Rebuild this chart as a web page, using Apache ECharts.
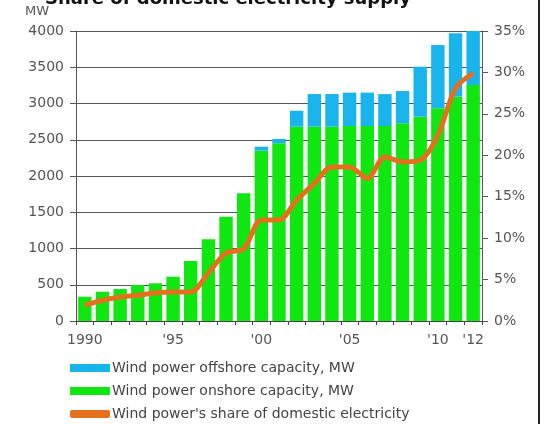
<!DOCTYPE html>
<html>
<head>
<meta charset="utf-8">
<script src="https://cdn.jsdelivr.net/npm/echarts@6/dist/echarts.min.js"></script>
<style>
  html, body { margin: 0; padding: 0; background: #fff; }
  #chart { width: 545px; height: 424px; }
</style>
</head>
<body>
<div id="chart"></div>
<script>
// years 1990 - 2012
var years = ['1990', '1991', '1992', '1993', '1994', '1995', '1996', '1997', '1998', '1999', '2000',
    '2001', '2002', '2003', '2004', '2005', '2006', '2007', '2008', '2009', '2010', '2011', '2012'];
var yearLabels = { '1990': '1990', '1995': '\'95', '2000': '\'00', '2005': '\'05', '2010': '\'10', '2012': '\'12' };

// MW
var onshore = [335, 404, 441, 497, 520, 611, 828, 1127, 1439, 1761, 2349,
    2451, 2680, 2680, 2680, 2690, 2690, 2690, 2727, 2818, 2933, 3094, 3255];
var offshore = [0, 0, 0, 0, 0, 0, 0, 0, 0, 0, 55,
    60, 220, 450, 450, 460, 460, 440, 445, 690, 875, 875, 805];

// % of domestic electricity supply
var share = [1.9, 2.5, 2.9, 3.1, 3.4, 3.5, 3.5, 5.8, 8.2, 8.7, 12.2,
    12.2, 14.6, 16.6, 18.6, 18.6, 17.2, 19.8, 19.2, 19.4, 22.4, 28.1, 29.9];

var names = ['Wind power offshore capacity, MW', 'Wind power onshore capacity, MW',
    'Wind power\'s share of domestic electricity'];

var font = 'DejaVu Sans';
var labelColor = '#555';
var gridColor = '#555';

var chart = echarts.init(document.getElementById('chart'), null, { renderer: 'canvas' });

var option = {
    animation: false,
    textStyle: { fontFamily: font },
    title: {
        text: 'Share of domestic electricity supply',
        left: 40,
        top: -15,
        textStyle: { fontFamily: font, fontSize: 18, fontWeight: 'bold', color: '#111' }
    },
    graphic: [
        { type: 'text', left: 25, top: 5, style: { text: 'MW', font: '13px DejaVu Sans', fill: labelColor } },
        { type: 'line', shape: { x1: 539, y1: 0, x2: 539, y2: 424 }, style: { stroke: '#222', lineWidth: 2 } }
    ],
    legend: {
        orient: 'vertical',
        left: 70,
        top: 361,
        padding: 0,
        itemWidth: 40,
        itemHeight: 8,
        itemGap: 9,
        textStyle: { fontFamily: font, fontSize: 14, color: '#444', padding: [0, 0, 0, -3] },
        data: [
            { name: names[0], icon: 'rect' },
            { name: names[1], icon: 'rect' },
            { name: names[2], icon: 'roundRect', itemStyle: { color: '#e4701e' } }
        ]
    },
    grid: { left: 76, right: 63, top: 31, bottom: 103 },
    xAxis: {
        type: 'category',
        data: years,
        axisLine: { lineStyle: { color: '#444', width: 1 } },
        axisTick: { show: true, interval: 0, length: 4, lineStyle: { color: '#444' } },
        axisLabel: {
            interval: 0,
            margin: 12,
            fontSize: 14,
            color: labelColor,
            formatter: function (v) { return yearLabels[v] || ''; }
        }
    },
    yAxis: [
        {
            type: 'value',
            min: 0,
            max: 4000,
            interval: 500,
            axisLine: { show: true, lineStyle: { color: '#555' } },
            axisTick: { show: true, length: 6, lineStyle: { color: '#555' } },
            axisLabel: { fontSize: 14, color: labelColor, margin: 12, formatter: function (v) { return String(v); } },
            splitLine: { lineStyle: { color: gridColor, width: 1 } }
        },
        {
            type: 'value',
            min: 0,
            max: 35,
            interval: 5,
            axisLine: { show: true, lineStyle: { color: '#555' } },
            axisTick: { show: true, length: 6, lineStyle: { color: '#555' } },
            axisLabel: { fontSize: 14, color: labelColor, margin: 12, formatter: '{value}%' },
            splitLine: { show: false }
        }
    ],
    series: [
        {
            name: names[1],
            type: 'bar',
            stack: 'cap',
            barCategoryGap: '24%',
            itemStyle: { color: '#10e610' },
            data: onshore
        },
        {
            name: names[0],
            type: 'bar',
            stack: 'cap',
            itemStyle: { color: '#1ab4ec' },
            data: offshore
        },
        {
            name: names[2],
            type: 'line',
            yAxisIndex: 1,
            smooth: 0.3,
            showSymbol: false,
            lineStyle: { color: '#e4701e', width: 5 },
            itemStyle: { color: '#e4701e' },
            data: share
        }
    ]
};

chart.setOption(option);
</script>
</body>
</html>
